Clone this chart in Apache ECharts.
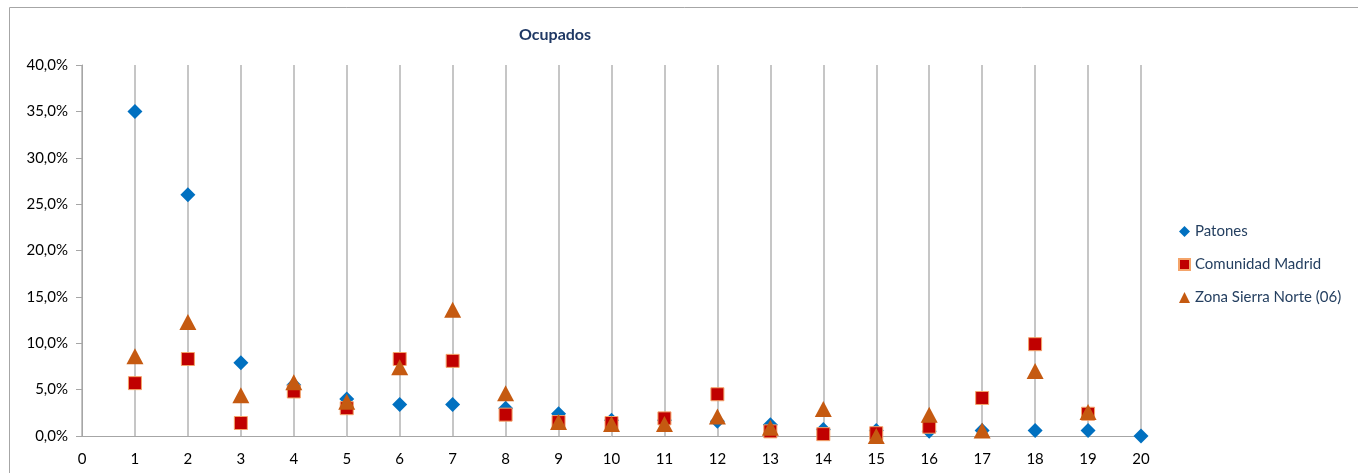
<!DOCTYPE html>
<html>
<head>
<meta charset="utf-8">
<script src="https://cdn.jsdelivr.net/npm/echarts@6/dist/echarts.min.js"></script>
<style>html,body{margin:0;padding:0;background:#fff}#c{width:1358px;height:473px}</style>
</head>
<body>
<div id="c"></div>
<script>
const categories = [1,2,3,4,5,6,7,8,9,10,11,12,13,14,15,16,17,18,19,20];
const patones = [35.0,26.0,7.9,5.5,4.0,3.4,3.4,3.0,2.4,1.7,1.7,1.6,1.2,0.7,0.6,0.5,0.6,0.6,0.6,0.0];
const comunidadMadrid = [5.7,8.3,1.4,4.8,3.0,8.3,8.1,2.3,1.5,1.4,1.9,4.5,0.5,0.2,0.3,1.0,4.1,9.9,2.4,null];
const sierraNorte = [8.6,12.3,4.4,5.8,3.7,7.4,13.6,4.6,1.5,1.3,1.3,2.1,0.9,2.9,0.0,2.3,0.6,7.0,2.6,null];
const seriesNames = ['Patones','Comunidad Madrid','Zona Sierra Norte (06)'];
const titleText = 'Ocupados';

function pairs(vals){ return categories.map((c,i)=> vals[i]==null ? null : [c, vals[i]/100]); }
const FONT = 'Lato';
const chart = echarts.init(document.getElementById('c'), null, {renderer:'canvas'});
chart.setOption({
  animation:false,
  textStyle:{fontFamily:FONT},
  graphic:[{type:'rect', shape:{x:9.5,y:7.5,width:1400,height:500}, style:{fill:'none',stroke:'#A6A6A6',lineWidth:1}, silent:true}],
  title:{text:titleText, left:514, top:22, textStyle:{fontFamily:FONT,fontSize:16,fontWeight:'bold',color:'#1F3864'}},
  grid:{left:82,right:217,top:65,bottom:37},
  legend:{orient:'vertical', left:1173, top:219, itemWidth:11, itemHeight:11, itemGap:18,
    data:seriesNames, textStyle:{fontFamily:FONT,fontSize:15,color:'#243F60'}},
  xAxis:{type:'value',min:0,max:20,interval:1,
    axisLine:{show:true,onZero:false,lineStyle:{color:'#A6A6A6',width:1}},
    axisTick:{show:false},
    axisLabel:{fontSize:15,color:'#000',margin:16,fontFamily:FONT},
    splitLine:{show:true,lineStyle:{color:'#B3B3B3',width:1.5}}},
  yAxis:{type:'value',min:0,max:0.4,interval:0.05,
    axisLine:{show:true,lineStyle:{color:'#A6A6A6',width:1}},
    axisTick:{show:true,inside:false,length:6,lineStyle:{color:'#A6A6A6'}},
    axisLabel:{fontSize:15,color:'#000',margin:14,fontFamily:FONT,
      formatter:v=>(v*100).toFixed(1).replace('.',',')+'%'},
    splitLine:{show:false}},
  series:[
    {name:seriesNames[0],type:'scatter',symbol:'diamond',symbolSize:[15,15],data:pairs(patones),
      itemStyle:{color:'#0070C0',opacity:1},z:3},
    {name:seriesNames[1],type:'scatter',symbol:'rect',symbolSize:[13,13],data:pairs(comunidadMadrid),
      itemStyle:{color:'#C00000',borderColor:'#F4A46A',borderWidth:1,opacity:1},z:4},
    {name:seriesNames[2],type:'scatter',symbol:'triangle',symbolSize:[17,16],data:pairs(sierraNorte),
      itemStyle:{color:'#C55A11',opacity:1},z:5}
  ]
});
</script>
</body>
</html>
